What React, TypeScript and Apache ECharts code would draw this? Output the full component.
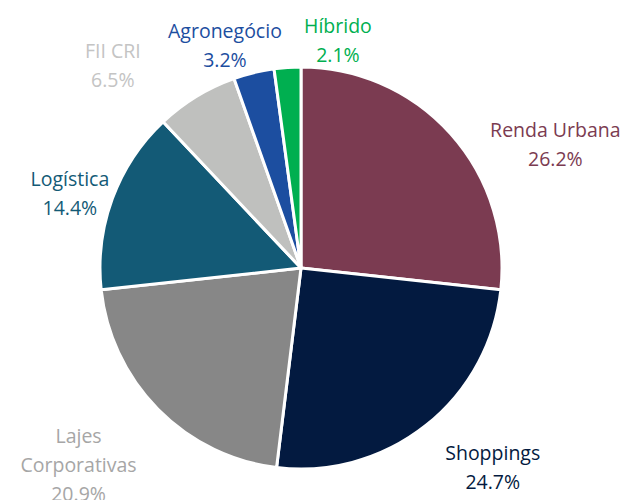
import React, { useEffect, useRef } from "react";
import * as echarts from "echarts";

const categories = ["Renda Urbana", "Shoppings", "Lajes\nCorporativas", "Logística", "FII CRI", "Agronegócio", "Híbrido"];
const values = [26.2, 24.7, 20.9, 14.4, 6.5, 3.2, 2.1];
const sliceColors = ["#7B3B51", "#031A40", "#878787", "#135A76", "#BFC0BE", "#1C4EA0", "#00AF50"];
const labelColors = ["#7B3B51", "#031A40", "#A6A6A6", "#135A76", "#C4C4C4", "#1C4EA0", "#00AF50"];
// label placement (polar, around pie centre): angle in degrees, distance in px
const labelAngles = [26, -46, -138.5, 162, 132.8, 108.8, 80.8];
const labelDists = [283, 276, 297, 243, 277, 236, 231];

const CX = 301;
const CY = 268;

export default function App() {
  const ref = useRef<HTMLDivElement>(null);
  useEffect(() => {
    if (!ref.current) return;
    const chart = echarts.init(ref.current, null, { renderer: "svg" });
    chart.setOption({
      animation: false,
      series: [
        {
          type: "pie",
          center: [CX, CY],
          radius: 201,
          startAngle: 90,
          clockwise: true,
          avoidLabelOverlap: false,
          itemStyle: { borderColor: "#ffffff", borderWidth: 3 },
          label: {
            show: true,
            position: "outside",
            fontFamily: "Open Sans",
            fontSize: 19.5,
            lineHeight: 29,
            align: "center",
            formatter: (p: any) => `${p.name}\n${p.value.toFixed(1)}%`,
          },
          labelLine: { show: false },
          labelLayout: (params: any) => {
            const i = params.dataIndex;
            const a = (labelAngles[i] * Math.PI) / 180;
            return {
              x: CX + labelDists[i] * Math.cos(a),
              y: CY - labelDists[i] * Math.sin(a),
              align: "center",
              verticalAlign: "middle",
            };
          },
          data: categories.map((name, i) => ({
            name,
            value: values[i],
            itemStyle: { color: sliceColors[i] },
            label: { color: labelColors[i] },
          })),
        },
      ],
    });
    return () => chart.dispose();
  }, []);
  return (
    <div
      ref={ref}
      style={{ position: "fixed", left: 0, top: 0, width: 638, height: 500, background: "#fff" }}
    />
  );
}
